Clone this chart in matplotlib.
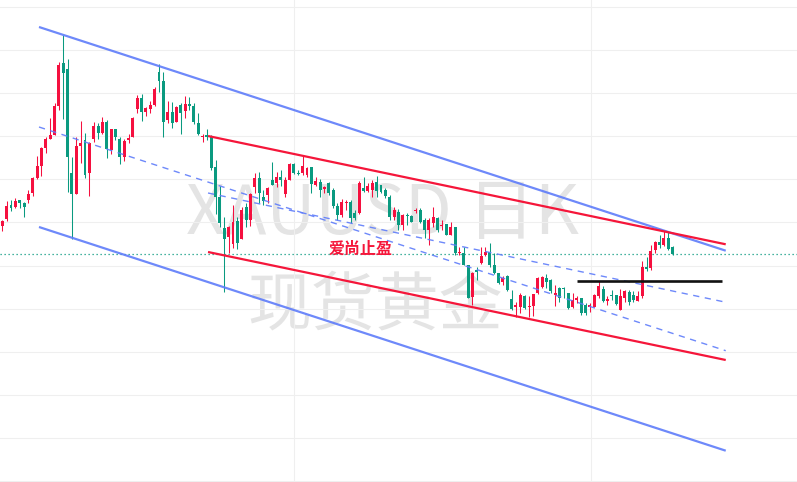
import numpy as np
import matplotlib
matplotlib.use("Agg")
import matplotlib.pyplot as plt

plt.rcParams['font.family'] = ['Noto Sans CJK SC', 'DejaVu Sans']

# XAUUSD daily candles (oldest -> newest)
opens = [2674.3, 2680.7, 2695, 2693.3, 2699.7, 2697.3, 2700, 2707.3, 2722.3, 2734,
         2752.3, 2761.3, 2765.3, 2794, 2836.7, 2831, 2726.7, 2706.3, 2754.3, 2760,
         2726.7, 2760.7, 2774, 2767.3, 2777.7, 2750, 2771, 2761, 2743.3, 2760,
         2762.7, 2790.7, 2802.3, 2788.3, 2791.3, 2795, 2828.3, 2819, 2780, 2787.7,
         2778, 2795.3, 2789.3, 2796, 2794.3, 2776.7, 2762.7, 2764.7, 2762.7, 2732.7,
         2703.3, 2671.7, 2662.7, 2656, 2679, 2661, 2692.7, 2680, 2713.3, 2721.7,
         2702.7, 2705, 2720, 2716.7, 2723.3, 2706, 2720, 2736, 2727.3, 2726.7,
         2725, 2733.3, 2715, 2718.3, 2711, 2716.7, 2710, 2694, 2685, 2696.7,
         2698.3, 2686.7, 2686.7, 2711.7, 2709.3, 2710, 2718.3, 2715, 2710, 2703.3,
         2682.7, 2688.3, 2675, 2685.5, 2684, 2689, 2690, 2680, 2670, 2676.7,
         2681.7, 2674.5, 2675.7, 2665, 2672.7, 2646.8, 2647.3, 2635, 2603.3, 2630,
         2636.7, 2645, 2648.3, 2635, 2626.7, 2618, 2624, 2600.7, 2592.7, 2592.7,
         2604, 2592.7, 2594, 2606.7, 2613.3, 2621.7, 2620, 2605, 2611.7, 2612.2,
         2607.3, 2592.7, 2600, 2601.7, 2595, 2592.7, 2593.3, 2603.7, 2611.3, 2599.3,
         2605.3, 2604.7, 2590.3, 2602, 2608, 2605.3, 2599.3, 2603.7, 2632.7, 2632,
         2650.3, 2658, 2654.7, 2662, 2652.7]
highs = [2680, 2699.3, 2700, 2701.7, 2699.7, 2698.3, 2710, 2723.3, 2744, 2753.3,
         2763.3, 2781.7, 2796.7, 2838.3, 2865.3, 2841, 2743.3, 2762.7, 2779.3, 2766.7,
         2758, 2778, 2776.7, 2782.7, 2780, 2771.3, 2771, 2762.7, 2760.7, 2766,
         2782.7, 2804.7, 2806, 2793.3, 2798.7, 2812.7, 2836, 2828.3, 2799, 2797.7,
         2794, 2797.3, 2804, 2802.7, 2796.7, 2786.7, 2766, 2771, 2765, 2740,
         2714, 2683.3, 2674, 2695, 2683.3, 2693.3, 2697.3, 2706.7, 2726.7, 2728.3,
         2710, 2713.3, 2738.3, 2728.3, 2730, 2723.3, 2737.3, 2736.7, 2730, 2744,
         2733.3, 2733.3, 2723.3, 2720.7, 2714.3, 2718.3, 2711.7, 2696.7, 2700.7, 2700,
         2700, 2690, 2719, 2723.3, 2716.7, 2720, 2724, 2715, 2711.7, 2705,
         2693.3, 2690.7, 2685.7, 2686.7, 2685, 2691.7, 2691.7, 2681.7, 2681.7, 2693.3,
         2683.3, 2680, 2676, 2678.3, 2672.7, 2652.7, 2652.7, 2635, 2628.3, 2632.7,
         2652.7, 2653.3, 2657.3, 2646.7, 2627.3, 2624, 2625, 2610, 2598.3, 2606.7,
         2605, 2604, 2606, 2622.7, 2624, 2626, 2620.7, 2615, 2613.3, 2613.3,
         2607.3, 2607.3, 2604, 2601.7, 2596.7, 2597.3, 2606, 2619, 2613.7, 2603.7,
         2610.3, 2605.3, 2611, 2610.3, 2610.3, 2608.7, 2608.7, 2638.7, 2642.7, 2655.3,
         2658.7, 2665.3, 2668.7, 2668.7, 2653.7]
lows = [2669.3, 2679.3, 2689.3, 2691.7, 2691.7, 2683.3, 2697.3, 2704.3, 2721.3, 2724.3,
        2746.7, 2761.3, 2764.7, 2790, 2781, 2708.3, 2660.7, 2706.3, 2737.3, 2721.7,
        2704.3, 2757.7, 2761, 2766, 2742.3, 2746, 2760, 2736, 2739, 2756.7,
        2762.7, 2786.7, 2779, 2784.3, 2787.3, 2794.3, 2808.3, 2763.3, 2777.3, 2772.3,
        2777.7, 2766, 2781.7, 2789.7, 2775.7, 2765.3, 2758.3, 2760, 2730, 2686,
        2673.3, 2608.3, 2646.7, 2651.7, 2651.3, 2661, 2673.3, 2674, 2706.7, 2696.7,
        2695, 2696.7, 2715, 2713.3, 2714, 2702.7, 2720, 2726, 2725, 2725,
        2722.7, 2707.3, 2714, 2703.3, 2706.7, 2705, 2691.7, 2680, 2683.3, 2690,
        2676.7, 2680, 2686, 2708.3, 2708.3, 2702.7, 2703.3, 2706.7, 2701.7, 2680,
        2680, 2670, 2670, 2675, 2678.3, 2687.3, 2676.7, 2661.7, 2655, 2673.3,
        2668.3, 2670, 2665, 2665, 2645, 2645, 2635, 2601.7, 2595, 2620,
        2636, 2644, 2633.3, 2626, 2616, 2615, 2609.3, 2590, 2583.3, 2586.7,
        2590.7, 2583.3, 2584, 2606, 2611.7, 2611.7, 2606.7, 2594, 2598.3, 2601.7,
        2590.7, 2591.7, 2597.3, 2585, 2585, 2588.3, 2592.7, 2602, 2598, 2594.7,
        2600.3, 2594.7, 2590.3, 2598, 2594.7, 2598, 2598.7, 2602, 2628.7, 2630.3,
        2647, 2652, 2653.7, 2650.3, 2644.7]
closes = [2679.3, 2694, 2691.7, 2699, 2697.3, 2693.3, 2706, 2722.3, 2734, 2752.3,
          2761, 2764.7, 2794, 2835, 2827.3, 2743.3, 2705.7, 2754, 2756.7, 2725,
          2757.3, 2774, 2767.3, 2778, 2750.7, 2770.7, 2762.7, 2742.7, 2759, 2762,
          2781.7, 2802.3, 2788, 2792.3, 2795, 2811.3, 2819.3, 2778.3, 2787.7, 2777.3,
          2793, 2786.7, 2796.3, 2794.3, 2777.7, 2766, 2764, 2763.3, 2731.7, 2703.3,
          2677.3, 2661, 2673.3, 2678.3, 2656.7, 2690, 2680, 2706, 2721.7, 2706.7,
          2699.3, 2712.3, 2715, 2723.3, 2720, 2720, 2736, 2726.7, 2726, 2734.3,
          2731.7, 2715.7, 2719, 2710, 2712.7, 2707.3, 2694, 2685, 2698.3, 2698.3,
          2681.7, 2681.7, 2717.3, 2709.3, 2714.3, 2717.3, 2709, 2708.3, 2704, 2683.3,
          2690, 2675, 2685, 2684.5, 2678.3, 2690, 2678.3, 2670, 2680, 2683.3,
          2670, 2675.5, 2665, 2672.7, 2647.3, 2647.8, 2635, 2602.3, 2627.3, 2628.3,
          2644, 2648.3, 2635, 2626.7, 2616.7, 2622.3, 2610, 2590.7, 2595, 2605,
          2591.7, 2594, 2606, 2621.7, 2623.3, 2618.3, 2609.3, 2606.7, 2601.7, 2611.2,
          2591.7, 2600, 2601.7, 2586.7, 2586.7, 2595, 2605, 2613.7, 2599.3, 2601.3,
          2604.3, 2596, 2603.7, 2608.7, 2598, 2600.3, 2603.7, 2632.7, 2631.3, 2648.7,
          2658, 2654.7, 2662, 2651.3, 2646]

# Trend lines drawn on the chart: (bar index, price) anchors
upper_channel = [(8.43, 2873), (166.19, 2649.3)]
lower_channel = [(8.43, 2673), (166.19, 2449.3)]
mid_dash_a = [(8.43, 2773), (166.19, 2549.3)]
mid_dash_b = [(47.26, 2707), (165.63, 2598.3)]
red_upper = [(47.26, 2764), (166.19, 2655.7)]
red_lower = [(47.26, 2648), (166.19, 2540)]
support_level = [(132.03, 2618.7), (165.27, 2618.7)]

symbol_text = "XAUUSD 日K"
name_text = "现货黄金"
note_text = "爱尚止盈"
note_pos = (82.4, 2651)

UP = '#F5103F'
DOWN = '#0A9A80'
BLUE = '#5E7CFA'
RED = '#F5163A'

o = np.array(opens)
h = np.array(highs)
l = np.array(lows)
c = np.array(closes)
idx = np.arange(len(o))
cols = np.where(c >= o, UP, DOWN)

fig = plt.figure(figsize=(7.97, 4.82), dpi=100, facecolor='white')
ax = fig.add_axes([0, 0, 1, 1])
ax.set_xlim(-0.528, 182.56)
ax.set_ylim(2418, 2900)

# grid
ax.set_yticks(np.arange(2893, 2400, -43.1))
ax.set_xticks([67, 135.2])
ax.grid(True, color='#EFEFEF', linewidth=0.8, zorder=0)
ax.tick_params(length=0, labelleft=False, labelbottom=False)
for s in ax.spines.values():
    s.set_visible(False)

# watermark
ax.text(0.48, 1 - 215 / 482, symbol_text, transform=ax.transAxes,
        ha='center', va='center', fontsize=49, color='#E4E4E4', zorder=1)
ax.text(0.4705, 1 - 306 / 482, name_text, transform=ax.transAxes,
        ha='center', va='center', fontsize=46, color='#E4E4E4', zorder=1)

# candles
ax.vlines(idx, l, h, colors=cols, linewidth=0.75, zorder=3)
body = np.maximum(np.abs(c - o), 1.0)
ax.bar(idx, body, bottom=np.minimum(o, c), width=0.68, color=cols,
       linewidth=0, zorder=3)

def seg(pts, **kw):
    xs, ys = zip(*pts)
    ax.plot(xs, ys, solid_capstyle='butt', zorder=4, **kw)

seg(upper_channel, color=BLUE, linewidth=1.6, alpha=0.9)
seg(lower_channel, color=BLUE, linewidth=1.6, alpha=0.9)
seg(mid_dash_a, color=BLUE, linewidth=1.0, linestyle=(0, (4.5, 4)), alpha=0.9)
seg(mid_dash_b, color=BLUE, linewidth=1.0, linestyle=(0, (4.5, 4)), alpha=0.9)
seg(red_upper, color=RED, linewidth=1.6)
seg(red_lower, color=RED, linewidth=1.6)
seg(support_level, color='#111111', linewidth=1.9)

# last price line
ax.axhline(closes[-1], color=DOWN, linewidth=0.9, linestyle=(0, (1, 2.2)), zorder=2)

ax.text(note_pos[0], note_pos[1], note_text, ha='center', va='center',
        fontsize=11.5, fontweight='bold', color=RED, zorder=5)

fig.savefig('out.png', dpi=100, facecolor='white')
